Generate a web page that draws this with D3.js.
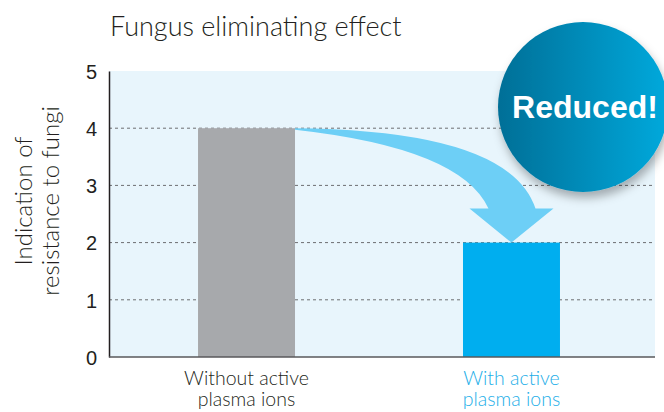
<!DOCTYPE html>
<html>
<head>
<meta charset="utf-8">
<script src="https://cdn.jsdelivr.net/npm/d3@7"></script>
<style>
  body { margin: 0; background: #fff; }
  svg { display: block; }
</style>
</head>
<body>
<div id="chart"></div>
<script>
// chart data
const categories = ["Without active plasma ions", "With active plasma ions"];
const categoryLines = [["Without active", "plasma ions"], ["With active", "plasma ions"]];
const values = [4, 2];
const yTicks = [0, 1, 2, 3, 4, 5];
const barColors = ["#a7a9ac", "#00aeef"];
const labelColors = ["#231f20", "#1caee8"];
const title = "Fungus eliminating effect";
const yTitle = ["Indication of", "resistance to fungi"];
const badgeText = "Reduced!";

const W = 664, H = 412;
const margin = {top: 71, left: 109, bottom: 55};
const plotRight = 655;
const lightFont = "Lato, sans-serif";

const svg = d3.select("#chart").append("svg")
    .attr("width", W)
    .attr("height", H);

const defs = svg.append("defs");
const grad = defs.append("linearGradient").attr("id", "badgeGrad")
    .attr("x1", "0%").attr("x2", "100%").attr("y1", "0%").attr("y2", "0%");
grad.append("stop").attr("offset", "0%").attr("stop-color", "#006f97");
grad.append("stop").attr("offset", "100%").attr("stop-color", "#00a9dc");
const shadow = defs.append("filter").attr("id", "shadow")
    .attr("x", "-30%").attr("y", "-30%").attr("width", "160%").attr("height", "160%");
shadow.append("feDropShadow").attr("dx", 2).attr("dy", 6)
    .attr("stdDeviation", 5).attr("flood-color", "#000").attr("flood-opacity", 0.3);

// scales
const y = d3.scaleLinear().domain([0, 5]).range([357, margin.top]);
const x = d3.scaleBand().domain(categories)
    .range([margin.left, 649])
    .paddingInner(0.634)
    .paddingOuter(0.336);

// plot background
svg.append("rect")
    .attr("x", margin.left).attr("y", y(5))
    .attr("width", plotRight - margin.left).attr("height", y(0) - y(5))
    .attr("fill", "#e8f5fc");

// dotted grid lines
svg.append("g")
    .selectAll("line")
    .data(yTicks.filter(d => d > 0 && d < 5))
    .enter().append("line")
    .attr("x1", margin.left).attr("x2", plotRight)
    .attr("y1", d => y(d)).attr("y2", d => y(d))
    .attr("stroke", "#6d6e71")
    .attr("stroke-width", 1)
    .attr("stroke-dasharray", "3,3");

// bars
svg.append("g")
    .selectAll("rect")
    .data(values)
    .enter().append("rect")
    .attr("x", (d, i) => x(categories[i]))
    .attr("y", d => y(d))
    .attr("width", x.bandwidth())
    .attr("height", d => y(0) - y(d))
    .attr("fill", (d, i) => barColors[i]);

// y axis
const yAxis = svg.append("g")
    .attr("transform", "translate(" + margin.left + ",0)")
    .call(d3.axisLeft(y).tickValues(yTicks).tickFormat(d3.format("d")).tickSize(0).tickPadding(12));
yAxis.select(".domain").attr("stroke", "#231f20").attr("stroke-width", 1.5);
yAxis.selectAll("text")
    .style("font-family", "Liberation Sans, Arial, sans-serif")
    .style("font-size", "20px")
    .attr("fill", "#231f20")
    .attr("dy", "0.36em");

// bottom line
svg.append("line")
    .attr("x1", margin.left).attr("x2", plotRight)
    .attr("y1", y(0)).attr("y2", y(0))
    .attr("stroke", "#58595b").attr("stroke-width", 1.5);

// category labels, one text per line
const xl = svg.append("g");
categoryLines.forEach(function (lines, i) {
    const cx = x(categories[i]) + x.bandwidth() / 2;
    lines.forEach(function (s, j) {
        xl.append("text")
            .attr("x", cx).attr("y", 385 + j * 21)
            .attr("text-anchor", "middle")
            .style("font-family", lightFont)
            .style("font-weight", 300)
            .style("font-size", "19.5px")
            .attr("fill", labelColors[i])
            .text(s);
    });
});

// title
svg.append("text")
    .attr("x", 110).attr("y", 36)
    .style("font-family", lightFont)
    .style("font-weight", 300)
    .style("font-size", "27px")
    .attr("fill", "#231f20")
    .text(title);

// y title
const yt = svg.append("text")
    .attr("transform", "translate(32," + 201 + ") rotate(-90)")
    .attr("text-anchor", "middle")
    .style("font-family", lightFont)
    .style("font-weight", 300)
    .style("font-size", "24px")
    .attr("fill", "#231f20");
yTitle.forEach(function (s, j) {
    yt.append("tspan").attr("x", 0).attr("dy", j === 0 ? 0 : 27).text(s);
});

// curved arrow from the gray bar down to the blue bar
const sx = x(categories[0]) + x.bandwidth();
const sy = y(values[0]);
const tx = x(categories[1]) + x.bandwidth() / 2;
const ty = y(values[1]);
const headY = ty - 34;
const arrow = d3.path();
arrow.moveTo(sx, sy);
arrow.quadraticCurveTo(sx + 215, sy + 2, tx + 24, headY);
arrow.lineTo(tx + 42, headY);
arrow.lineTo(tx, ty);
arrow.lineTo(tx - 42, headY);
arrow.lineTo(tx - 23, headY);
arrow.quadraticCurveTo(tx - 50, sy + 20, sx, sy + 1.5);
arrow.closePath();
svg.append("path")
    .attr("d", arrow.toString())
    .attr("fill", "#6dcff6");

// badge
const badge = svg.append("g").attr("transform", "translate(583,107)");
badge.append("circle")
    .attr("r", 85)
    .attr("fill", "url(#badgeGrad)")
    .attr("filter", "url(#shadow)");
badge.append("text")
    .attr("x", 2).attr("y", 11)
    .attr("text-anchor", "middle")
    .style("font-family", "Liberation Sans, Arial, sans-serif")
    .style("font-weight", "bold")
    .style("font-size", "32px")
    .attr("fill", "#fff")
    .text(badgeText);
</script>
</body>
</html>
